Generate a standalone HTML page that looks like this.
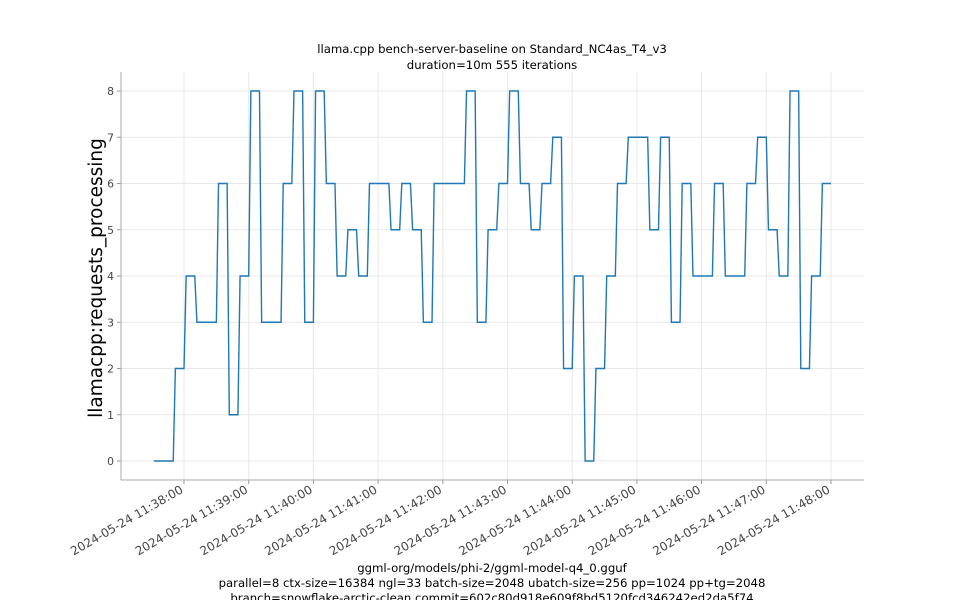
<!DOCTYPE html>
<html><head><meta charset="utf-8"><style>
body{margin:0;background:#fff;}
svg{display:block;font-family:"DejaVu Sans","Liberation Sans",sans-serif;}
</style></head><body>
<svg id="chart" width="960" height="600">
<text x="492" y="53" font-size="11.7" text-anchor="middle" fill="#000">llama.cpp bench-server-baseline on Standard_NC4as_T4_v3</text>
<text x="492" y="69" font-size="11.7" text-anchor="middle" fill="#000">duration=10m 555 iterations</text>
<g id="grid"></g>
<g id="axes"></g>
<path id="series" fill="none" stroke="#1f77b4" stroke-width="1.4"/>
<text transform="translate(102,278) rotate(-90)" font-size="18.5" text-anchor="middle" fill="#000">llamacpp:requests_processing</text>
<text x="492" y="572" font-size="11.7" text-anchor="middle" fill="#000">ggml-org/models/phi-2/ggml-model-q4_0.gguf</text>
<text x="492" y="587" font-size="11.7" text-anchor="middle" fill="#000">parallel=8 ctx-size=16384 ngl=33 batch-size=2048 ubatch-size=256 pp=1024 pp+tg=2048</text>
<text x="492" y="602" font-size="11.7" text-anchor="middle" fill="#000">branch=snowflake-arctic-clean commit=602c80d918e609f8bd5120fcd346242ed2da5f74</text>
</svg>
<script>
// values sampled every 10 s starting at 11:37:30
const startSeconds = -30; // relative to 11:38:00
const stepSeconds = 10;
const values = [0,0,2,4,3,3,6,1,4,8,3,3,6,8,3,8,6,4,5,4,6,6,5,6,5,3,6,6,6,8,3,5,6,8,6,5,6,7,2,4,0,2,4,6,7,7,5,7,3,6,4,4,6,4,4,6,7,5,4,8,2,4,6];
const yTicks = [0,1,2,3,4,5,6,7,8];
const xTickMinutes = [0,1,2,3,4,5,6,7,8,9,10];
const xTickLabels = ["2024-05-24 11:38:00","2024-05-24 11:39:00","2024-05-24 11:40:00","2024-05-24 11:41:00","2024-05-24 11:42:00","2024-05-24 11:43:00","2024-05-24 11:44:00","2024-05-24 11:45:00","2024-05-24 11:46:00","2024-05-24 11:47:00","2024-05-24 11:48:00"];

const L=121,R=864,T=72,B=480;
const xs = s => 184 + s*(831-184)/600;
const ys = v => 461 - v*(461-91)/8;
const NS="http://www.w3.org/2000/svg";
const grid=document.getElementById('grid'), axes=document.getElementById('axes');
function mk(tag,attrs,parent){const e=document.createElementNS(NS,tag);for(const k in attrs)e.setAttribute(k,attrs[k]);parent.appendChild(e);return e;}

yTicks.forEach(v=>{
  const y=ys(v);
  const g=mk('line',{x1:L,x2:R,y1:y,y2:y,stroke:'#e8e8e8','stroke-width':1},grid);
  
  
  const tk=mk('line',{x1:L-4,x2:L,y1:y,y2:y,stroke:'#999'},axes);
  
  
  const t=mk('text',{x:L-7,y:y+4,'font-size':10.8,'text-anchor':'end',fill:'#444'},axes);
  t.textContent=v;
  
  
});
xTickMinutes.forEach((m,i)=>{
  const x=xs(m*60);
  const g=mk('line',{x1:x,x2:x,y1:T,y2:B,stroke:'#e8e8e8','stroke-width':1},grid);
  
  
  const tk=mk('line',{x1:x,x2:x,y1:B,y2:B+4,stroke:'#999'},axes);
  
  
  const t=mk('text',{transform:`translate(${x},${B+12}) rotate(-30)`,'font-size':12,'text-anchor':'end',fill:'#444'},axes);
  t.textContent=xTickLabels[i];
  
  
});
const ya=mk('line',{x1:L,x2:L,y1:T,y2:B,stroke:'#aaa'},axes);


const xa=mk('line',{x1:L,x2:R,y1:B,y2:B,stroke:'#aaa'},axes);



let d='';
values.forEach((v,i)=>{
  const t0=startSeconds+i*stepSeconds;
  d+=(i?'L':'M')+xs(t0+2).toFixed(2)+','+ys(v).toFixed(2)+'L'+xs(t0+10).toFixed(2)+','+ys(v).toFixed(2);
});
document.getElementById('series').setAttribute('d',d);
</script>
</body></html>
